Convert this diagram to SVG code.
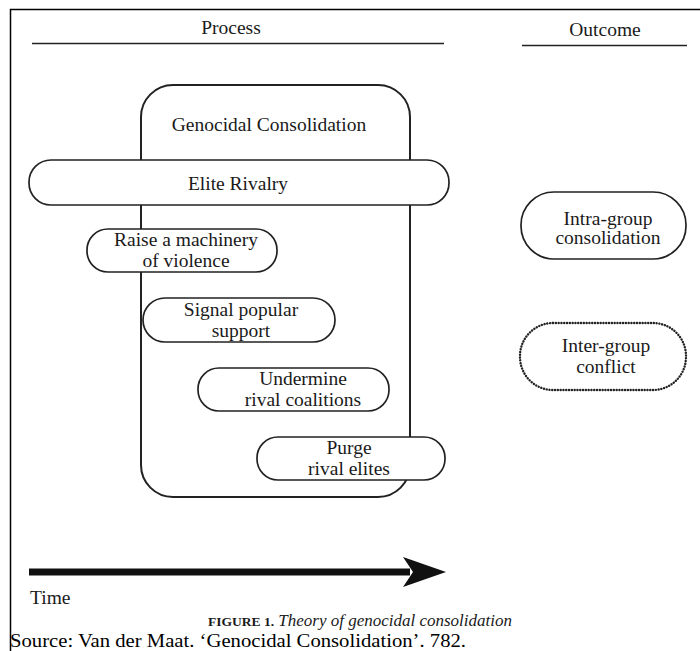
<svg xmlns="http://www.w3.org/2000/svg" width="700" height="651" viewBox="0 0 700 651">
<style>
.t{font-family:"Liberation Serif","Times New Roman",serif;font-size:19.5px;fill:#1a1a1a;text-anchor:middle}
.b{fill:#fff;stroke:#222;stroke-width:1.7}
.d{fill:#fff;stroke:#222;stroke-width:2.4;stroke-dasharray:0.1 2.7;stroke-linecap:round}
.ln{stroke:#222;stroke-width:1.6}
</style>
<rect width="700" height="651" fill="#fff"/>
<path d="M10.5 651 V9.5 H700" fill="none" stroke="#000" stroke-width="1.5"/>
<g id="header">
<text class="t" x="231" y="34">Process</text>
<line class="ln" x1="32" y1="43.5" x2="444" y2="43.5"/>
<text class="t" x="605" y="36">Outcome</text>
<line class="ln" x1="522" y1="45.5" x2="687" y2="45.5"/>
</g>
<g id="genocidal">
<rect class="b" x="141" y="85" width="269" height="412" rx="32" ry="32" style="stroke-width:2"/>
<text class="t" x="269" y="131">Genocidal Consolidation</text>
</g>
<g id="elite">
<rect class="b" x="29" y="160" width="420" height="45" rx="22" ry="22"/>
<text class="t" x="238" y="190">Elite Rivalry</text>
</g>
<g id="raise">
<rect class="b" x="87" y="229" width="190" height="43" rx="21" ry="21"/>
<text class="t" x="186" y="246">Raise a machinery</text>
<text class="t" x="186" y="267">of violence</text>
</g>
<g id="signal">
<rect class="b" x="143" y="298" width="192" height="44" rx="22" ry="22"/>
<text class="t" x="241" y="316">Signal popular</text>
<text class="t" x="241" y="337">support</text>
</g>
<g id="undermine">
<rect class="b" x="198" y="368" width="191" height="43" rx="21" ry="21"/>
<text class="t" x="303" y="385">Undermine</text>
<text class="t" x="303" y="406">rival coalitions</text>
</g>
<g id="purge">
<rect class="b" x="257" y="437" width="188" height="43" rx="21" ry="21"/>
<text class="t" x="349" y="454">Purge</text>
<text class="t" x="349" y="475">rival elites</text>
</g>
<g id="intra">
<rect class="b" x="521" y="192" width="165" height="67" rx="33" ry="33"/>
<text class="t" x="608" y="225">Intra-group</text>
<text class="t" x="608" y="244">consolidation</text>
</g>
<g id="inter">
<rect class="d" x="520" y="323" width="166" height="67" rx="33" ry="33"/>
<text class="t" x="606" y="352">Inter-group</text>
<text class="t" x="606" y="373">conflict</text>
</g>
<g id="connectors">
<line x1="29" y1="572" x2="410" y2="572" stroke="#111" stroke-width="7"/>
<path d="M403 557 L446 572 L403 587 L413 572 Z" fill="#111"/>
</g>
<text class="t" x="30" y="604" style="text-anchor:start">Time</text>
<text x="360" y="625.5" style="font-family:'Liberation Serif',serif;font-size:17px;text-anchor:middle;fill:#1a1a1a"><tspan font-weight="bold" font-size="13.5">FIGURE 1.</tspan><tspan font-style="italic"> Theory of genocidal consolidation</tspan></text>
<text x="10" y="646.5" textLength="456" lengthAdjust="spacingAndGlyphs" style="font-family:'Liberation Serif',serif;font-size:19px;fill:#000">Source: Van der Maat. ‘Genocidal Consolidation’. 782.</text>
</svg>
